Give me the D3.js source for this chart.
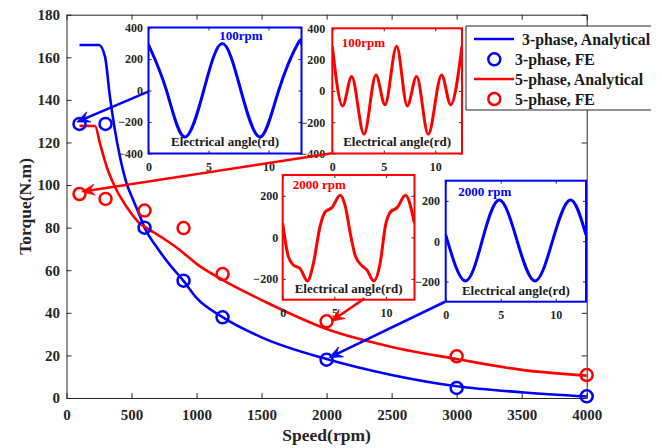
<!DOCTYPE html>
<html><head><meta charset="utf-8">
<script src="https://cdn.jsdelivr.net/npm/d3@7"></script>
<style>
body{margin:0;background:#fff;}
svg{display:block;}
</style></head><body>
<svg id="chart" width="662" height="448"></svg>
<script>
// ---------- data ----------
const xTicks = [0,500,1000,1500,2000,2500,3000,3500,4000];
const yTicks = [0,20,40,60,80,100,120,140,160,180];
const xLabel = "Speed(rpm)";
const yLabel = "Torque(N.m)";

const speedFE = [100,300,600,900,1200,2000,3000,4000];
const torque3FE = [128.7,128.7,80,55.1,37.9,18,4.7,0.8];
const torque5FE = [95.8,93.5,88,79.8,58.2,36,19.6,10.8];

const speed3An = [100,250,296,334,372,411,462,513,564,600,692,795,900,1000,1200,1500,2000,2500,3000,3500,4000];
const torque3An = [165.8,165.8,160.3,141.5,125.9,113.3,100.8,93,85.5,80,71,62.5,55,47,38,28.5,18.3,10.8,5.5,2.7,0.7];

const speed5An = [100,220,257,309,372,462,564,603,743,871,1000,1200,1400,1500,2000,2500,3000,3500,4000];
const torque5An = [127.8,127.7,119.6,108.6,99.2,89.8,82,80.4,75,69.5,63,55.5,49,46,32.4,24,18.3,13.2,10.5];

const legendLabels = ["3-phase, Analytical","3-phase, FE","5-phase, Analytical","5-phase, FE"];

const insetTitles = ["100rpm","100rpm","2000 rpm","2000 rpm"];
const insetXLabel = "Electrical angle(rd)";
const insetXTicks = [0,5,10];
const insetYTicks100 = [-400,-200,0,200,400];
const insetYTicks2000 = [-200,0,200];

const blue100Angle = [0,1.5,3.0,4.6,6.15,7.7,9.3,10.85,12.45,12.75];
const blue100Value = [292,0,-295,0,298,0,-295,0,298,292];

const red100Angle = [0,1.0,1.88,3.08,4.24,5.12,6.25,7.28,8.19,9.32,10.62,11.5,12.6];
const red100Value = [285,-96,92,-277,102,-89,285,-96,92,-277,102,-89,285];

const red2000Angle = [0,0.55,1.03,1.68,2.39,2.97,3.62,4.1,4.76,5.56,6.05,6.53,7.02,7.67,8.16,8.8,9.45,9.93,10.42,11.07,11.87,12.75];
const red2000Value = [67,-93,-133,-150,-210,-125,54,122,143,203,151,21,-89,-137,-158,-210,-117,54,122,143,203,67];

const blue2000Angle = [0,1.75,3.3,4.87,6.5,8.12,9.7,11.3,12.75];
const blue2000Value = [31,-197,0,204,0,-197,0,204,31];

// arrows: from (speed, torque) to (speed, torque) in main-axis units
const arrowFromSpeed = [628,2041,2292,2911];
const arrowFromTorque = [143.9,114.9,46.8,45.2];
const arrowToSpeed = [80,117,2036,2020];
const arrowToTorque = [129.6,96.9,36,19];

// ---------- style / layout ----------
const FONT = '"Liberation Serif","Times New Roman",serif';
const AX = "#262626";
const BLUE = "#0000ff", RED = "#ff0000";
const M = {l:66.5, r:586.7, t:14.7, b:398};

const svg = d3.select("#chart").attr("font-family",FONT).attr("font-weight","bold");
const x = d3.scaleLinear().domain([0,4000]).range([M.l,M.r]);
const y = d3.scaleLinear().domain([0,180]).range([M.b,M.t]);
const fmt = d3.format("d");

function styleAxis(g,size){
  g.attr("font-family",FONT).attr("font-size",size).attr("font-weight","bold");
  g.selectAll("text").attr("fill",AX);
  g.selectAll("line").attr("stroke",AX);
  g.select(".domain").attr("stroke",AX);
}
// main axes
styleAxis(svg.append("g").attr("transform",`translate(0,${M.b})`)
  .call(d3.axisBottom(x).tickValues(xTicks).tickFormat(fmt).tickSizeInner(-5).tickSizeOuter(0).tickPadding(11)),15);
styleAxis(svg.append("g").attr("transform",`translate(${M.l},0)`)
  .call(d3.axisLeft(y).tickValues(yTicks).tickFormat(fmt).tickSizeInner(-5).tickSizeOuter(0).tickPadding(6.5)),15);
styleAxis(svg.append("g").attr("transform",`translate(0,${M.t})`)
  .call(d3.axisTop(x).tickValues(xTicks).tickSizeInner(-5).tickSizeOuter(0).tickFormat("")),15);
styleAxis(svg.append("g").attr("transform",`translate(${M.r},0)`)
  .call(d3.axisRight(y).tickValues(yTicks).tickSizeInner(-5).tickSizeOuter(0).tickFormat("")),15);

svg.append("text").attr("x",(M.l+M.r)/2).attr("y",441).attr("text-anchor","middle")
  .attr("font-size",17.5).attr("fill",AX).text(xLabel);
svg.append("text").attr("transform",`translate(31,${(M.t+M.b)/2}) rotate(-90)`).attr("text-anchor","middle")
  .attr("font-size",17.5).attr("fill",AX).text(yLabel);

// curves
const mainLine = d3.line().x(d=>x(d[0])).y(d=>y(d[1])).curve(d3.curveMonotoneX);
svg.append("path").datum(d3.zip(speed3An,torque3An)).attr("d",mainLine)
  .attr("fill","none").attr("stroke",BLUE).attr("stroke-width",2.6);
svg.append("path").datum(d3.zip(speed5An,torque5An)).attr("d",mainLine)
  .attr("fill","none").attr("stroke",RED).attr("stroke-width",2.6);
svg.append("g").selectAll("circle").data(d3.zip(speedFE,torque3FE)).join("circle")
  .attr("cx",d=>x(d[0])).attr("cy",d=>y(d[1])).attr("r",6)
  .attr("fill","none").attr("stroke",BLUE).attr("stroke-width",2.5);
svg.append("g").selectAll("circle").data(d3.zip(speedFE,torque5FE)).join("circle")
  .attr("cx",d=>x(d[0])).attr("cy",d=>y(d[1])).attr("r",6)
  .attr("fill","none").attr("stroke",RED).attr("stroke-width",2.5);

// insets
const insets = [
  {x0:148.5,x1:301.5,y0:27.5,y1:153.5,xMax:12.75,yMax:400,yT:insetYTicks100,color:BLUE,title:insetTitles[0],
   tx:241,anchor:"middle",ty:40.3,yPad:5.5,ang:blue100Angle,val:blue100Value,curve:d3.curveNatural},
  {x0:332.3,x1:462,y0:28.3,y1:153.5,xMax:12.6,yMax:400,yT:insetYTicks100,color:RED,title:insetTitles[1],
   tx:341.7,anchor:"start",ty:47,yPad:7,ang:red100Angle,val:red100Value,curve:d3.curveMonotoneX},
  {x0:282.7,x1:414.5,y0:175,y1:299.7,xMax:12.75,yMax:300,yT:insetYTicks2000,color:RED,title:insetTitles[2],
   tx:292.7,anchor:"start",ty:188.6,yPad:4.5,ang:red2000Angle,val:red2000Value,curve:d3.curveMonotoneX},
  {x0:445.7,x1:586,y0:180.7,y1:301.7,xMax:12.75,yMax:300,yT:insetYTicks2000,color:BLUE,title:insetTitles[3],
   tx:458.3,anchor:"start",ty:196.3,yPad:5.7,ang:blue2000Angle,val:blue2000Value,curve:d3.curveNatural}
];
insets.forEach((c,i)=>{
  const g = svg.append("g");
  const ix = d3.scaleLinear().domain([0,c.xMax]).range([c.x0,c.x1]);
  const iy = d3.scaleLinear().domain([-c.yMax,c.yMax]).range([c.y1,c.y0]);
  g.append("rect").attr("x",c.x0).attr("y",c.y0).attr("width",c.x1-c.x0).attr("height",c.y1-c.y0).attr("fill","#fff");
  const axes = [
    g.append("g").attr("transform",`translate(0,${c.y1})`).call(d3.axisBottom(ix).tickValues(insetXTicks).tickSizeInner(-3).tickSizeOuter(0).tickPadding(8.5)),
    g.append("g").attr("transform",`translate(${c.x0},0)`).call(d3.axisLeft(iy).tickValues(c.yT).tickSizeInner(-3).tickSizeOuter(0).tickPadding(c.yPad)),
    g.append("g").attr("transform",`translate(0,${c.y0})`).call(d3.axisTop(ix).tickValues(insetXTicks).tickSizeInner(-3).tickSizeOuter(0).tickFormat("")),
    g.append("g").attr("transform",`translate(${c.x1},0)`).call(d3.axisRight(iy).tickValues(c.yT).tickSizeInner(-3).tickSizeOuter(0).tickFormat(""))
  ];
  axes.forEach(a=>{styleAxis(a,12); a.select(".domain").remove();});
  const cid = "clip"+i;
  g.append("clipPath").attr("id",cid).append("rect").attr("x",c.x0).attr("y",c.y0).attr("width",c.x1-c.x0).attr("height",c.y1-c.y0);
  g.append("path").datum(d3.zip(c.ang,c.val))
    .attr("d",d3.line().x(d=>ix(d[0])).y(d=>iy(d[1])).curve(c.curve))
    .attr("clip-path",`url(#${cid})`).attr("fill","none").attr("stroke",c.color).attr("stroke-width",3);
  g.append("text").attr("x",c.tx).attr("y",c.ty).attr("text-anchor",c.anchor).attr("font-size",13)
    .attr("fill",c.color).text(c.title);
  g.append("text").attr("x",(c.x0+c.x1)/2).attr("y",c.y1-7.2).attr("text-anchor","middle").attr("font-size",13)
    .attr("fill","#1a1a1a").text(insetXLabel);
  g.append("rect").attr("x",c.x0).attr("y",c.y0).attr("width",c.x1-c.x0).attr("height",c.y1-c.y0)
    .attr("fill","none").attr("stroke",c.color).attr("stroke-width",2);
});

// arrows
const arrowColors = [BLUE,RED,RED,BLUE];
arrowFromSpeed.forEach((s,i)=>{
  const p0=[x(s),y(arrowFromTorque[i])], p1=[x(arrowToSpeed[i]),y(arrowToTorque[i])];
  const dx=p1[0]-p0[0], dy=p1[1]-p0[1], L=Math.hypot(dx,dy), ux=dx/L, uy=dy/L, nx=-uy, ny=ux;
  const HL=13, HW=5.5, NT=8;
  const notch=[p1[0]-ux*NT,p1[1]-uy*NT];
  svg.append("line").attr("x1",p0[0]).attr("y1",p0[1]).attr("x2",notch[0]).attr("y2",notch[1])
    .attr("stroke",arrowColors[i]).attr("stroke-width",2.6);
  const b=[p1[0]-ux*HL,p1[1]-uy*HL];
  svg.append("path").attr("d",`M${p1[0]},${p1[1]}L${b[0]+nx*HW},${b[1]+ny*HW}L${notch[0]},${notch[1]}L${b[0]-nx*HW},${b[1]-ny*HW}Z`)
    .attr("fill",arrowColors[i]).attr("stroke",arrowColors[i]).attr("stroke-width",0.8);
});

// legend (right edge falls outside the picture, as in the reference)
const lg = svg.append("g");
lg.append("rect").attr("x",466).attr("y",26).attr("width",185).attr("height",84).attr("fill","#fff");
lg.append("path").attr("d","M651,26H466V110H651").attr("fill","none").attr("stroke",AX).attr("stroke-width",1);
const legY = [39,59.3,79,99];
const legColor = [BLUE,BLUE,RED,RED];
const legLine = [true,false,true,false];
legendLabels.forEach((t,i)=>{
  if(legLine[i]) lg.append("line").attr("x1",474).attr("x2",514).attr("y1",legY[i]).attr("y2",legY[i])
    .attr("stroke",legColor[i]).attr("stroke-width",2.6);
  else lg.append("circle").attr("cx",494.3).attr("cy",legY[i]).attr("r",6)
    .attr("fill","none").attr("stroke",legColor[i]).attr("stroke-width",2.5);
  lg.append("text").attr("x",i===0?522:515).attr("y",legY[i]+5.5).attr("font-size",15.8)
    .attr("fill","#1a1a1a").text(t);
});
</script>
</body></html>
